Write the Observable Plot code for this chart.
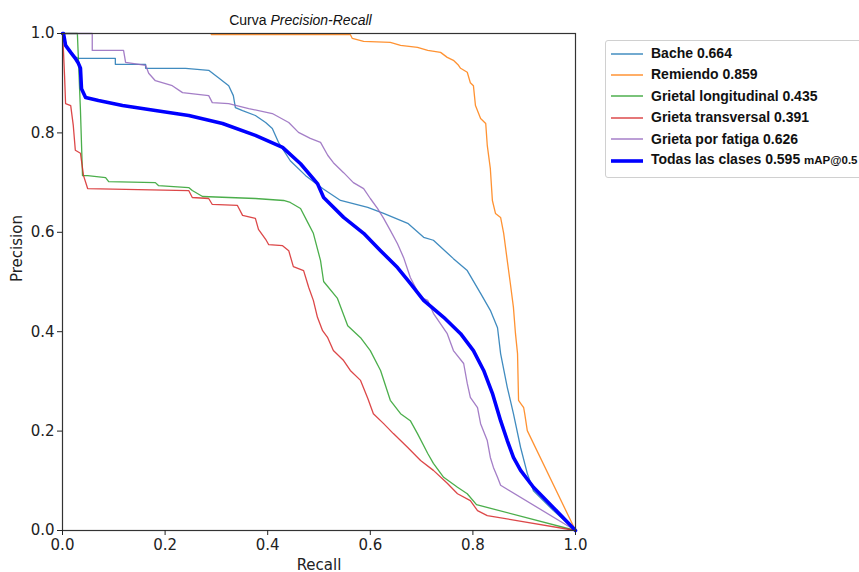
<!DOCTYPE html>
<html>
<head>
<meta charset="utf-8">
<script src="https://cdn.jsdelivr.net/npm/d3@7"></script>
<script src="https://cdn.jsdelivr.net/npm/@observablehq/plot@0.6"></script>
<style>
  html, body { margin: 0; padding: 0; background: #fff; overflow: hidden; }
  #wrap { position: relative; width: 859px; height: 572px; overflow: hidden; }
  #legend {
    position: absolute; left: 605px; top: 40px; width: 290px; height: 138px;
    border: 1px solid #d0d0d0; border-radius: 3px; background: #fff;
    font-family: "Liberation Sans", Arial, sans-serif; font-weight: bold; font-size: 14px;
    color: #111; box-sizing: border-box; padding-top: 2px;
  }
  .row { height: 21.4px; line-height: 21.4px; display: flex; align-items: center; white-space: nowrap; }
  .row svg { margin-left: 5px; margin-right: 8px; flex: none; }
  .small { font-size: 11.5px; }
</style>
</head>
<body>
<div id="wrap"></div>
<script>
// ---- Data ----
const classNames = ["Bache", "Remiendo", "Grietal longitudinal", "Grieta transversal", "Grieta por fatiga", "Todas las clases"];
const classAP = [0.664, 0.859, 0.435, 0.391, 0.626, 0.595];
const classColors = ["#1f77b4", "#ff7f0e", "#2ca02c", "#d62728", "#9467bd", "#0000ff"];
const xTicks = [0, 0.2, 0.4, 0.6, 0.8, 1.0];
const yTicks = [0, 0.2, 0.4, 0.6, 0.8, 1.0];

const bacheR = [0, 0.01, 0.02, 0.031, 0.103, 0.103, 0.162, 0.162, 0.240, 0.285, 0.304, 0.324, 0.333, 0.337, 0.351, 0.376, 0.396, 0.409, 0.421, 0.444, 0.474, 0.507, 0.542, 0.595, 0.626, 0.673, 0.704, 0.723, 0.762, 0.789, 0.815, 0.834, 0.848, 0.854, 0.867, 0.873, 0.879, 0.893, 0.906, 0.918, 0.957, 1.0];
const bacheP = [1.0, 0.97, 0.955, 0.950, 0.950, 0.938, 0.938, 0.930, 0.930, 0.926, 0.911, 0.895, 0.875, 0.851, 0.845, 0.835, 0.821, 0.809, 0.781, 0.744, 0.714, 0.688, 0.664, 0.650, 0.638, 0.618, 0.590, 0.584, 0.547, 0.523, 0.477, 0.443, 0.408, 0.356, 0.288, 0.262, 0.235, 0.167, 0.115, 0.080, 0.040, 0.0];

const remiendoR = [0.29, 0.561, 0.565, 0.587, 0.639, 0.659, 0.692, 0.712, 0.737, 0.750, 0.762, 0.772, 0.776, 0.789, 0.795, 0.801, 0.805, 0.815, 0.825, 0.828, 0.834, 0.838, 0.844, 0.854, 0.860, 0.867, 0.873, 0.879, 0.883, 0.887, 0.889, 0.893, 0.899, 0.901, 0.906, 1.0];
const remiendoP = [0.998, 0.998, 0.990, 0.984, 0.982, 0.976, 0.972, 0.966, 0.962, 0.952, 0.946, 0.936, 0.930, 0.922, 0.901, 0.895, 0.855, 0.829, 0.819, 0.775, 0.728, 0.664, 0.638, 0.630, 0.598, 0.543, 0.497, 0.449, 0.396, 0.356, 0.262, 0.256, 0.247, 0.235, 0.201, 0.0];

const longitudinalR = [0, 0.029, 0.035, 0.039, 0.049, 0.084, 0.090, 0.181, 0.187, 0.246, 0.253, 0.273, 0.376, 0.431, 0.444, 0.464, 0.478, 0.489, 0.503, 0.509, 0.536, 0.556, 0.581, 0.600, 0.620, 0.639, 0.659, 0.678, 0.692, 0.712, 0.723, 0.743, 0.770, 0.789, 0.807, 1.0];
const longitudinalP = [1.0, 1.0, 0.845, 0.714, 0.714, 0.710, 0.702, 0.700, 0.694, 0.690, 0.684, 0.672, 0.668, 0.664, 0.660, 0.648, 0.620, 0.598, 0.543, 0.501, 0.467, 0.412, 0.388, 0.362, 0.322, 0.262, 0.235, 0.221, 0.195, 0.155, 0.135, 0.107, 0.087, 0.074, 0.052, 0.0];

const transversalR = [0, 0.002, 0.004, 0.006, 0.016, 0.021, 0.025, 0.035, 0.041, 0.049, 0.246, 0.253, 0.285, 0.292, 0.341, 0.351, 0.376, 0.382, 0.396, 0.402, 0.429, 0.441, 0.450, 0.470, 0.480, 0.489, 0.497, 0.507, 0.517, 0.528, 0.548, 0.561, 0.581, 0.595, 0.606, 0.626, 0.645, 0.673, 0.698, 0.723, 0.750, 0.770, 0.795, 0.809, 0.828, 1.0];
const transversalP = [1.0, 0.962, 0.915, 0.859, 0.855, 0.815, 0.765, 0.759, 0.714, 0.688, 0.684, 0.670, 0.668, 0.656, 0.654, 0.634, 0.628, 0.606, 0.586, 0.575, 0.573, 0.563, 0.531, 0.523, 0.489, 0.463, 0.429, 0.402, 0.388, 0.362, 0.342, 0.322, 0.302, 0.266, 0.235, 0.215, 0.195, 0.167, 0.141, 0.121, 0.095, 0.074, 0.060, 0.040, 0.030, 0.0];

const fatigaR = [0, 0.058, 0.058, 0.119, 0.123, 0.162, 0.168, 0.181, 0.214, 0.234, 0.285, 0.292, 0.324, 0.363, 0.409, 0.441, 0.460, 0.483, 0.503, 0.517, 0.528, 0.548, 0.567, 0.587, 0.600, 0.614, 0.626, 0.639, 0.653, 0.665, 0.678, 0.698, 0.712, 0.723, 0.750, 0.762, 0.782, 0.789, 0.795, 0.809, 0.815, 0.828, 0.834, 0.840, 0.848, 0.854, 1.0];
const fatigaP = [1.0, 1.0, 0.966, 0.966, 0.942, 0.936, 0.920, 0.905, 0.895, 0.881, 0.875, 0.861, 0.859, 0.849, 0.839, 0.821, 0.801, 0.789, 0.781, 0.755, 0.740, 0.720, 0.700, 0.688, 0.668, 0.648, 0.628, 0.604, 0.577, 0.549, 0.509, 0.469, 0.463, 0.437, 0.396, 0.362, 0.336, 0.296, 0.268, 0.247, 0.215, 0.181, 0.147, 0.127, 0.107, 0.091, 0.0];

const todasR = [0, 0.002, 0.006, 0.016, 0.025, 0.031, 0.035, 0.037, 0.045, 0.070, 0.117, 0.181, 0.246, 0.312, 0.376, 0.429, 0.464, 0.497, 0.509, 0.548, 0.587, 0.620, 0.653, 0.678, 0.704, 0.743, 0.776, 0.801, 0.821, 0.838, 0.854, 0.867, 0.879, 0.893, 0.918, 0.957, 1.0];
const todasP = [1.0, 1.0, 0.976, 0.962, 0.950, 0.940, 0.930, 0.889, 0.871, 0.865, 0.855, 0.845, 0.835, 0.819, 0.795, 0.771, 0.738, 0.698, 0.670, 0.630, 0.598, 0.563, 0.529, 0.497, 0.463, 0.429, 0.396, 0.362, 0.322, 0.276, 0.221, 0.181, 0.147, 0.121, 0.087, 0.046, 0.0];

// ---- Build rows ----
const seriesR = [bacheR, remiendoR, longitudinalR, transversalR, fatigaR, todasR];
const seriesP = [bacheP, remiendoP, longitudinalP, transversalP, fatigaP, todasP];
const rows = seriesR.map((R, i) => R.map((r, j) => ({cls: classNames[i], recall: r, precision: seriesP[i][j]})));

const thinMarks = rows.slice(0, 5).map((d, i) =>
  Plot.line(d, {x: "recall", y: "precision", stroke: classColors[i], strokeWidth: 1.3, strokeOpacity: 0.85}));
const thickMark = Plot.line(rows[5], {x: "recall", y: "precision", stroke: classColors[5], strokeWidth: 3.6});

const chart = Plot.plot({
  width: 859, height: 572,
  marginLeft: 62, marginRight: 284, marginTop: 33, marginBottom: 42,
  style: {fontFamily: "DejaVu Sans", fontSize: "15px", color: "#222", background: "#fff"},
  x: {domain: [0, 1]},
  y: {domain: [0, 1]},
  marks: [
    ...thinMarks,
    thickMark,
    Plot.frame({stroke: "#333", strokeWidth: 1.2}),
    Plot.axisX({ticks: xTicks, tickFormat: d => d.toFixed(1), tickSize: 5, tickPadding: 4, label: null, fontSize: 15}),
    Plot.axisY({ticks: yTicks, tickFormat: d => d.toFixed(1), tickSize: 5, tickPadding: 3, label: null, fontSize: 15}),
    Plot.text(["Recall"], {frameAnchor: "bottom", dy: 39, lineAnchor: "bottom", fontSize: 15}),
    Plot.text(["Precision"], {frameAnchor: "left", dx: -45, rotate: -90, fontSize: 15}),
    Plot.text(["Curva"], {frameAnchor: "top-left", dx: 204, dy: -9, textAnchor: "end", lineAnchor: "bottom",
      fontFamily: "Liberation Sans", fontSize: 14, fill: "#111"}),
    Plot.text(["Precision-Recall"], {frameAnchor: "top-left", dx: 208, dy: -9, textAnchor: "start", lineAnchor: "bottom",
      fontFamily: "Liberation Sans", fontSize: 14, fontStyle: "italic", fill: "#111"})
  ]
});

const wrap = document.getElementById("wrap");
wrap.appendChild(chart);

// ---- Legend ----
const legend = document.createElement("div");
legend.id = "legend";
classNames.forEach((name, i) => {
  const row = document.createElement("div");
  row.className = "row";
  const sw = i === 5 ? 3.6 : 1.8;
  row.innerHTML = `<svg width="32" height="8"><line x1="0" x2="32" y1="4" y2="4" stroke="${classColors[i]}" stroke-width="${sw}" stroke-opacity="${i === 5 ? 1 : 0.7}"/></svg>` +
    `<span>${name} ${classAP[i].toFixed(3)}${i === 5 ? ' <span class="small">mAP@0.5</span>' : ''}</span>`;
  legend.appendChild(row);
});
wrap.appendChild(legend);
</script>
</body>
</html>
